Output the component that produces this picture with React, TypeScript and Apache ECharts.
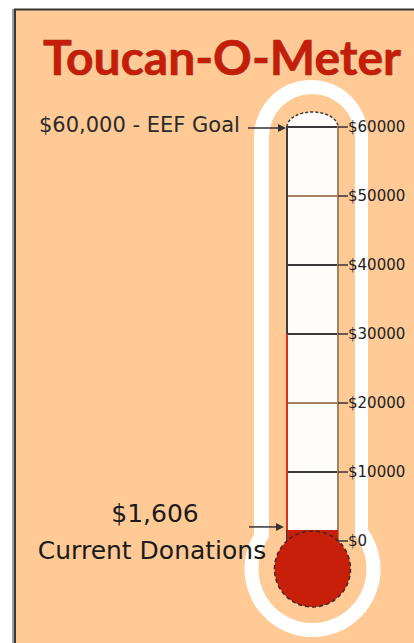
import React, { useEffect, useRef } from "react";
import * as echarts from "echarts";

const categories = ["Donations"];
const raised = [1606];
const axisMin = 0;
const axisMax = 60000;
const axisStep = 10000;
const splitLineColors = ["#3a3a3a", "#3a3a3a", "#a5825f", "#3a3a3a", "#3a3a3a", "#a5825f", "#3a3a3a"];
const titleText = "Toucan-O-Meter";
const goalText = "$60,000 - EEF Goal";
const currentAmountText = "$1,606";
const currentLabelText = "Current Donations";
const redLineFrom = 30000;

const PEACH = "#ffca96";
const RED = "#c81f0a";

export default function App() {
  const ref = useRef<HTMLDivElement>(null);
  useEffect(() => {
    if (!ref.current) return;
    const chart = echarts.init(ref.current, null, { renderer: "svg" });
    const tubeL = 287;
    const tubeR = 338;
    const cx = (tubeL + tubeR) / 2;
    const bulbCy = 569;
    chart.setOption({
      animation: false,
      backgroundColor: "#ffffff",
      grid: {
        left: tubeL,
        right: 414 - tubeR,
        top: 127,
        bottom: 643 - 541,
        show: true,
        backgroundColor: "#fffdfa",
        borderWidth: 0,
        z: 0,
      },
      xAxis: {
        type: "category",
        data: categories,
        show: false,
      },
      yAxis: [
        {
          type: "value",
          position: "right",
          min: axisMin,
          max: axisMax,
          interval: axisStep,
          axisLine: { show: true, lineStyle: { color: "#a5825f", width: 2 } },
          axisTick: { show: true, length: 10, inside: false, lineStyle: { color: "#333", width: 1.5 } },
          axisLabel: {
            formatter: (v: number) => "$" + v,
            margin: 10,
            color: "#222",
            fontSize: 15,
            fontFamily: "DejaVu Sans",
          },
          splitLine: { show: true, lineStyle: { color: splitLineColors, width: 2 } },
        },
        {
          type: "value",
          position: "left",
          min: axisMin,
          max: axisMax,
          interval: axisStep,
          axisLine: { show: true, lineStyle: { color: "#3a3a3a", width: 2 } },
          axisTick: { show: false },
          axisLabel: { show: false },
          splitLine: { show: false },
        },
      ],
      series: [
        {
          type: "bar",
          data: raised,
          barWidth: "100%",
          itemStyle: { color: RED },
          z: 2,
        },
      ],
    });

    const goalY = chart.convertToPixel({ yAxisIndex: 0 }, axisMax) as number;
    const fillY = chart.convertToPixel({ yAxisIndex: 0 }, raised[0]) as number;
    const redTopY = chart.convertToPixel({ yAxisIndex: 0 }, redLineFrom) as number;

    const arrow = (x1: number, x2: number, y: number) => [
      { type: "line", z: 20, shape: { x1, y1: y, x2: x2 - 6, y2: y }, style: { stroke: "#333", lineWidth: 1.5 } },
      {
        type: "polygon",
        z: 20,
        shape: { points: [[x2 - 8, y - 4], [x2, y], [x2 - 8, y + 4]] },
        style: { fill: "#333" },
      },
    ];

    chart.setOption({
      graphic: [
        { type: "rect", z: -20, shape: { x: 15, y: 9.5, width: 430, height: 660 }, style: { fill: PEACH, stroke: "#3b3631", lineWidth: 2 } },
        { type: "line", z: -20, shape: { x1: 13, y1: 9, x2: 13, y2: 643 }, style: { stroke: "#a0a0a0", lineWidth: 2 } },
        { type: "rect", z: -19, shape: { x: 254, y: 80, width: 114, height: bulbCy - 80, r: [57, 57, 0, 0] }, style: { fill: "#ffffff" } },
        { type: "circle", z: -19, shape: { cx, cy: bulbCy, r: 68 }, style: { fill: "#ffffff" } },
        { type: "rect", z: -18, shape: { x: 269, y: 94, width: 86, height: bulbCy - 94, r: [43, 43, 0, 0] }, style: { fill: PEACH } },
        { type: "circle", z: -18, shape: { cx, cy: bulbCy, r: 54 }, style: { fill: PEACH } },
        { type: "ellipse", z: -17, shape: { cx, cy: goalY, rx: (tubeR - tubeL) / 2, ry: 15 }, style: { fill: "#fffdfa", stroke: "#3a3a3a", lineWidth: 1.5, lineDash: [3, 2] } },
        { type: "line", z: 5, shape: { x1: tubeL, y1: redTopY, x2: tubeL, y2: fillY }, style: { stroke: "#d8321c", lineWidth: 2 } },
        { type: "circle", z: 5, shape: { cx, cy: bulbCy, r: 38 }, style: { fill: RED, stroke: "#3a2a22", lineWidth: 1.5, lineDash: [4, 3] } },
        {
          type: "text",
          z: 20,
          style: {
            x: 222,
            y: 56,
            text: titleText,
            fill: "#c51d0a",
            stroke: "#7a2a1a",
            lineWidth: 0.6,
            font: "bold 48px Lato",
            align: "center",
            verticalAlign: "middle",
          },
        },
        {
          type: "text",
          z: 20,
          style: { x: 39, y: goalY - 2, text: goalText, fill: "#2a2a2a", font: "21px 'DejaVu Sans'", align: "left", verticalAlign: "middle" },
        },
        ...arrow(248, tubeL - 1, goalY + 1),
        {
          type: "text",
          z: 20,
          style: { x: 155, y: fillY - 16, text: currentAmountText, fill: "#1a1a1a", font: "25px 'DejaVu Sans'", align: "center", verticalAlign: "middle" },
        },
        {
          type: "text",
          z: 20,
          style: { x: 152, y: fillY + 21, text: currentLabelText, fill: "#1a1a1a", font: "25px 'DejaVu Sans'", align: "center", verticalAlign: "middle" },
        },
        ...arrow(249, tubeL - 3, fillY - 3),
      ],
    });
    return () => chart.dispose();
  }, []);
  return <div ref={ref} style={{ position: "fixed", left: 0, top: 0, width: 414, height: 643 }} />;
}
